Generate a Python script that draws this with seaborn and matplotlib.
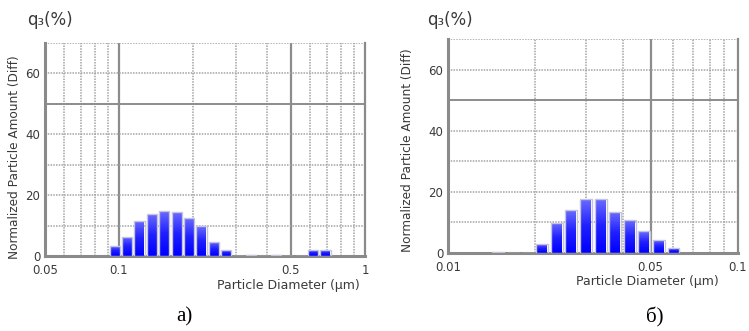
import numpy as np
import matplotlib
matplotlib.use('Agg')
import matplotlib.pyplot as plt
import seaborn as sns
from matplotlib.colors import LinearSegmentedColormap

# panel a) - diameters (um) and q3 (%)
diam_a = [0.096, 0.108, 0.121, 0.136, 0.153, 0.171, 0.193, 0.216, 0.243, 0.273,
          0.344, 0.433, 0.622, 0.698]
q3_a = [3.3, 6.4, 11.5, 13.8, 14.8, 14.4, 12.4, 9.7, 4.6, 1.9,
        0.3, 0.3, 1.9, 1.9]

# panel б)
diam_b = [0.0149, 0.0212, 0.0238, 0.0268, 0.0300, 0.0337, 0.0379, 0.0425,
          0.0478, 0.0536, 0.0602]
q3_b = [0.3, 2.9, 9.9, 14.0, 17.6, 17.6, 13.4, 10.8, 7.0, 4.3, 1.5]

xlim_a = (0.05, 1)
xlim_b = (0.01, 0.1)
xticks_a = [0.05, 0.1, 0.5, 1]
xticks_b = [0.01, 0.05, 0.1]
yticks = [0, 20, 40, 60]

sns.set_style('white')
plt.rcParams['font.family'] = ['DejaVu Sans']

fig = plt.figure(figsize=(7.49, 3.31), dpi=100)
ax_a = fig.add_axes([0.0601, 0.2266, 0.4272, 0.6435])
ax_b = fig.add_axes([0.5985, 0.2366, 0.3864, 0.6447])

grad_cmap = LinearSegmentedColormap.from_list('bar', ['#0000ff', '#2020ff', '#6b6bff'])
dot_c = '#a4a4a4'
solid_c = '#8c8c8c'


def draw_panel(ax, diam, q3, xlim, xticks):
    bw = 0.0504  # bin width in log10 units
    lo = np.log10(diam[0]) - bw / 2
    nb = int(round((np.log10(diam[-1]) - np.log10(diam[0])) / bw)) + 1
    sns.histplot(x=diam, weights=q3, log_scale=True, binwidth=bw,
                 binrange=(lo, lo + nb * bw), shrink=0.82, ax=ax,
                 color='#0000ff', edgecolor='#c4c4dc', linewidth=1.0,
                 alpha=1, zorder=3)
    ax.set_xscale('log')

    # gradient fill inside bars
    grad = np.linspace(0, 1, 64).reshape(-1, 1)
    for p in list(ax.patches):
        if p.get_height() <= 0:
            continue
        x0, y0 = p.get_x(), p.get_y()
        x1, y1 = x0 + p.get_width(), y0 + p.get_height()
        im = ax.imshow(grad, extent=[x0, x1, y0, y1], origin='lower',
                       aspect='auto', cmap=grad_cmap, zorder=3.5,
                       interpolation='bilinear')
        im.set_clip_path(p)
        p.set_facecolor('none')
        p.set_zorder(4)
    ax.set_xlim(*xlim)
    ax.set_ylim(0, 70)
    ax.set_aspect('auto')

    # grid: solid at 1 and 5 of each decade and y=50, dotted elsewhere
    lo_dec = int(np.floor(np.log10(xlim[0])))
    hi_dec = int(np.ceil(np.log10(xlim[1])))
    for d in range(lo_dec, hi_dec + 1):
        for m in range(1, 10):
            v = m * 10.0 ** d
            if v <= xlim[0] * 1.0001 or v >= xlim[1] * 0.9999:
                continue
            if m in (1, 5):
                ax.axvline(v, color=solid_c, lw=1.6, ls='-', zorder=1)
            else:
                ax.axvline(v, color=dot_c, lw=1.1, ls=(0, (1, 0.8)), zorder=1)
    for yv in [10, 20, 30, 40, 60, 70]:
        ax.axhline(yv, color=dot_c, lw=1.1, ls=(0, (1, 0.8)), zorder=1)
    ax.axhline(50, color=solid_c, lw=1.4, zorder=1)

    for side in ['left', 'bottom']:
        ax.spines[side].set_color('#8a8a8a')
        ax.spines[side].set_linewidth(2.2)
    ax.spines['right'].set_color('#8a8a8a')
    ax.spines['right'].set_linewidth(1.6)
    ax.spines['top'].set_visible(False)

    ax.set_xticks(xticks)
    ax.set_xticklabels([f'{t:g}' for t in xticks])
    ax.xaxis.set_minor_locator(matplotlib.ticker.NullLocator())
    ax.set_yticks(yticks)
    ax.tick_params(axis='both', length=0, labelsize=8.5, labelcolor='#3a3a3a')
    ax.tick_params(axis='x', pad=6)
    ax.tick_params(axis='y', pad=3.5)
    ax.set_xlabel('')
    ax.set_ylabel('')


draw_panel(ax_a, diam_a, q3_a, xlim_a, xticks_a)
draw_panel(ax_b, diam_b, q3_b, xlim_b, xticks_b)

lab_kw = dict(fontsize=8.7, color='#3a3a3a')
fig.text(15 / 749, 1 - 157 / 331, 'Normalized Particle Amount (Diff)', rotation=90,
         ha='center', va='center', **lab_kw)
fig.text(407 / 749, 1 - 150 / 331, 'Normalized Particle Amount (Diff)', rotation=90,
         ha='center', va='center', **lab_kw)
fig.text(288 / 749, 1 - 286 / 331, 'Particle Diameter (μm)', ha='center', va='center',
         fontsize=9, color='#3a3a3a')
fig.text(647 / 749, 1 - 282 / 331, 'Particle Diameter (μm)', ha='center', va='center',
         fontsize=9, color='#3a3a3a')

fig.text(27 / 749, 1 - 20 / 331, 'q₃(%)', ha='left', va='center', fontsize=12, color='#3a3a3a')
fig.text(427 / 749, 1 - 20 / 331, 'q₃(%)', ha='left', va='center', fontsize=12, color='#3a3a3a')

fig.text(184 / 749, 1 - 317 / 331, 'а)', ha='center', va='center', fontsize=15,
         family='Liberation Serif', color='black')
fig.text(655 / 749, 1 - 317 / 331, 'б)', ha='center', va='center', fontsize=15,
         family='Liberation Serif', color='black')

fig.savefig('out.png', dpi=100, facecolor='white')
